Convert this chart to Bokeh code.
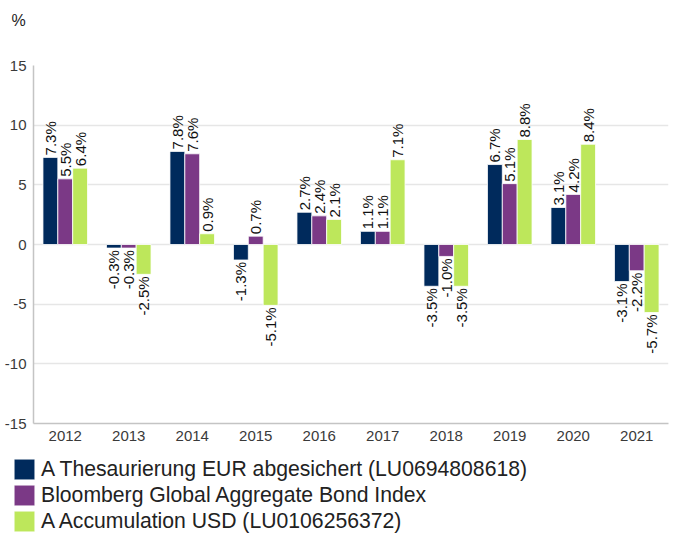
import math
from bokeh.plotting import figure
from bokeh.models import (ColumnDataSource, FactorRange, Legend, LegendItem, Label,
                          Range1d, FixedTicker)
from bokeh.transform import dodge
from bokeh.embed import file_html
from bokeh.resources import INLINE
from bokeh.core.properties import value

years = ["2012", "2013", "2014", "2015", "2016", "2017", "2018", "2019", "2020", "2021"]
fund_eur = [7.3, -0.3, 7.8, -1.3, 2.7, 1.1, -3.5, 6.7, 3.1, -3.1]
bond_index = [5.5, -0.3, 7.6, 0.7, 2.4, 1.1, -1.0, 5.1, 4.2, -2.2]
fund_usd = [6.4, -2.5, 0.9, -5.1, 2.1, 7.1, -3.5, 8.8, 8.4, -5.7]
series_names = ["A Thesaurierung EUR abgesichert (LU0694808618)",
                "Bloomberg Global Aggregate Bond Index",
                "A Accumulation USD (LU0106256372)"]
y_ticks = [-15, -10, -5, 0, 5, 10, 15]

colors = ["#002a5c", "#7b3986", "#bde75b"]
FONT = "Liberation Sans"
bw = 0.234
offsets = [-bw, 0.0, bw]


def bare_figure(h, xr, yr):
    f = figure(width=669, height=h, x_range=xr, y_range=yr, output_backend="svg",
               toolbar_location=None, x_axis_location=None, y_axis_location=None,
               min_border_left=0, min_border_right=0, min_border_top=0, min_border_bottom=0)
    f.grid.visible = False
    f.outline_line_color = None
    return f


# header with the unit label
hf = bare_figure(40, Range1d(0, 1), Range1d(0, 1))
hf.add_layout(Label(x=0, y=0.5, text="%", x_offset=11, text_align="left",
                    text_baseline="middle", text_font=FONT, text_font_size="16px",
                    text_color="#222222"))

# main chart
p = figure(x_range=FactorRange(*years), y_range=Range1d(-15, 15),
           width=669, height=416, output_backend="svg", toolbar_location=None,
           min_border_left=33, min_border_right=1, min_border_top=25,
           min_border_bottom=33)
p.outline_line_color = None

# legend-only figure (same data; its y range keeps the bars out of view)
lf = bare_figure(77, FactorRange(*years), Range1d(20, 21))

items = []
for vals, col, off, name in zip([fund_eur, bond_index, fund_usd], colors, offsets, series_names):
    src = ColumnDataSource(dict(year=years, val=vals))
    p.vbar(x=dodge("year", off, range=p.x_range), top="val", bottom=0, width=bw,
           source=src, fill_color=col, line_color="#ffffff", line_width=0.8)
    r = lf.vbar(x=dodge("year", off, range=lf.x_range), top="val", bottom=0, width=bw,
                source=src, fill_color=col, line_color="#ffffff", line_width=0.8)
    items.append(LegendItem(label=name, renderers=[r]))
    pos = [(y, v, f"{v:.1f}%") for y, v in zip(years, vals) if v >= 0]
    neg = [(y, v, f"{v:.1f}%") for y, v in zip(years, vals) if v < 0]
    for its, align, yoff in [(pos, "left", -2), (neg, "right", 2)]:
        if not its:
            continue
        s = ColumnDataSource(dict(year=[i[0] for i in its], val=[i[1] for i in its],
                                  lab=[i[2] for i in its]))
        p.text(x=dodge("year", off, range=p.x_range), y="val", text="lab", source=s,
               angle=math.pi / 2, text_align=align, text_baseline="middle",
               y_offset=yoff, text_font=value(FONT), text_font_size="15px",
               text_color="#111111")

p.yaxis.ticker = FixedTicker(ticks=y_ticks)
p.yaxis.major_label_overrides = {t: str(t) for t in y_ticks}
for ax in (p.xaxis[0], p.yaxis[0]):
    ax.axis_line_color = "#c4c4c4"
    ax.axis_line_width = 1.5
    ax.major_tick_line_color = None
    ax.minor_tick_line_color = None
    ax.major_tick_out = 0
    ax.major_label_text_font = FONT
    ax.major_label_text_font_size = "15px"
    ax.major_label_text_color = "#3a3a3a"
    ax.major_label_standoff = 7
p.xgrid.grid_line_color = None
p.ygrid.grid_line_color = "#e6e6e6"
p.ygrid.grid_line_width = 1.5
p.x_range.range_padding = 0

legend = Legend(items=items, orientation="vertical", location=(11, -1),
                label_text_font=FONT, label_text_font_size="21.2px", label_text_color="#222222",
                glyph_width=26, glyph_height=26, label_height=26, spacing=0,
                label_standoff=4, padding=0, margin=0, border_line_color=None,
                background_fill_alpha=0)
lf.add_layout(legend, "center")

# separate roots, stacked, so that each keeps its own frame position
open("out.html", "w").write(file_html([hf, p, lf], INLINE))
